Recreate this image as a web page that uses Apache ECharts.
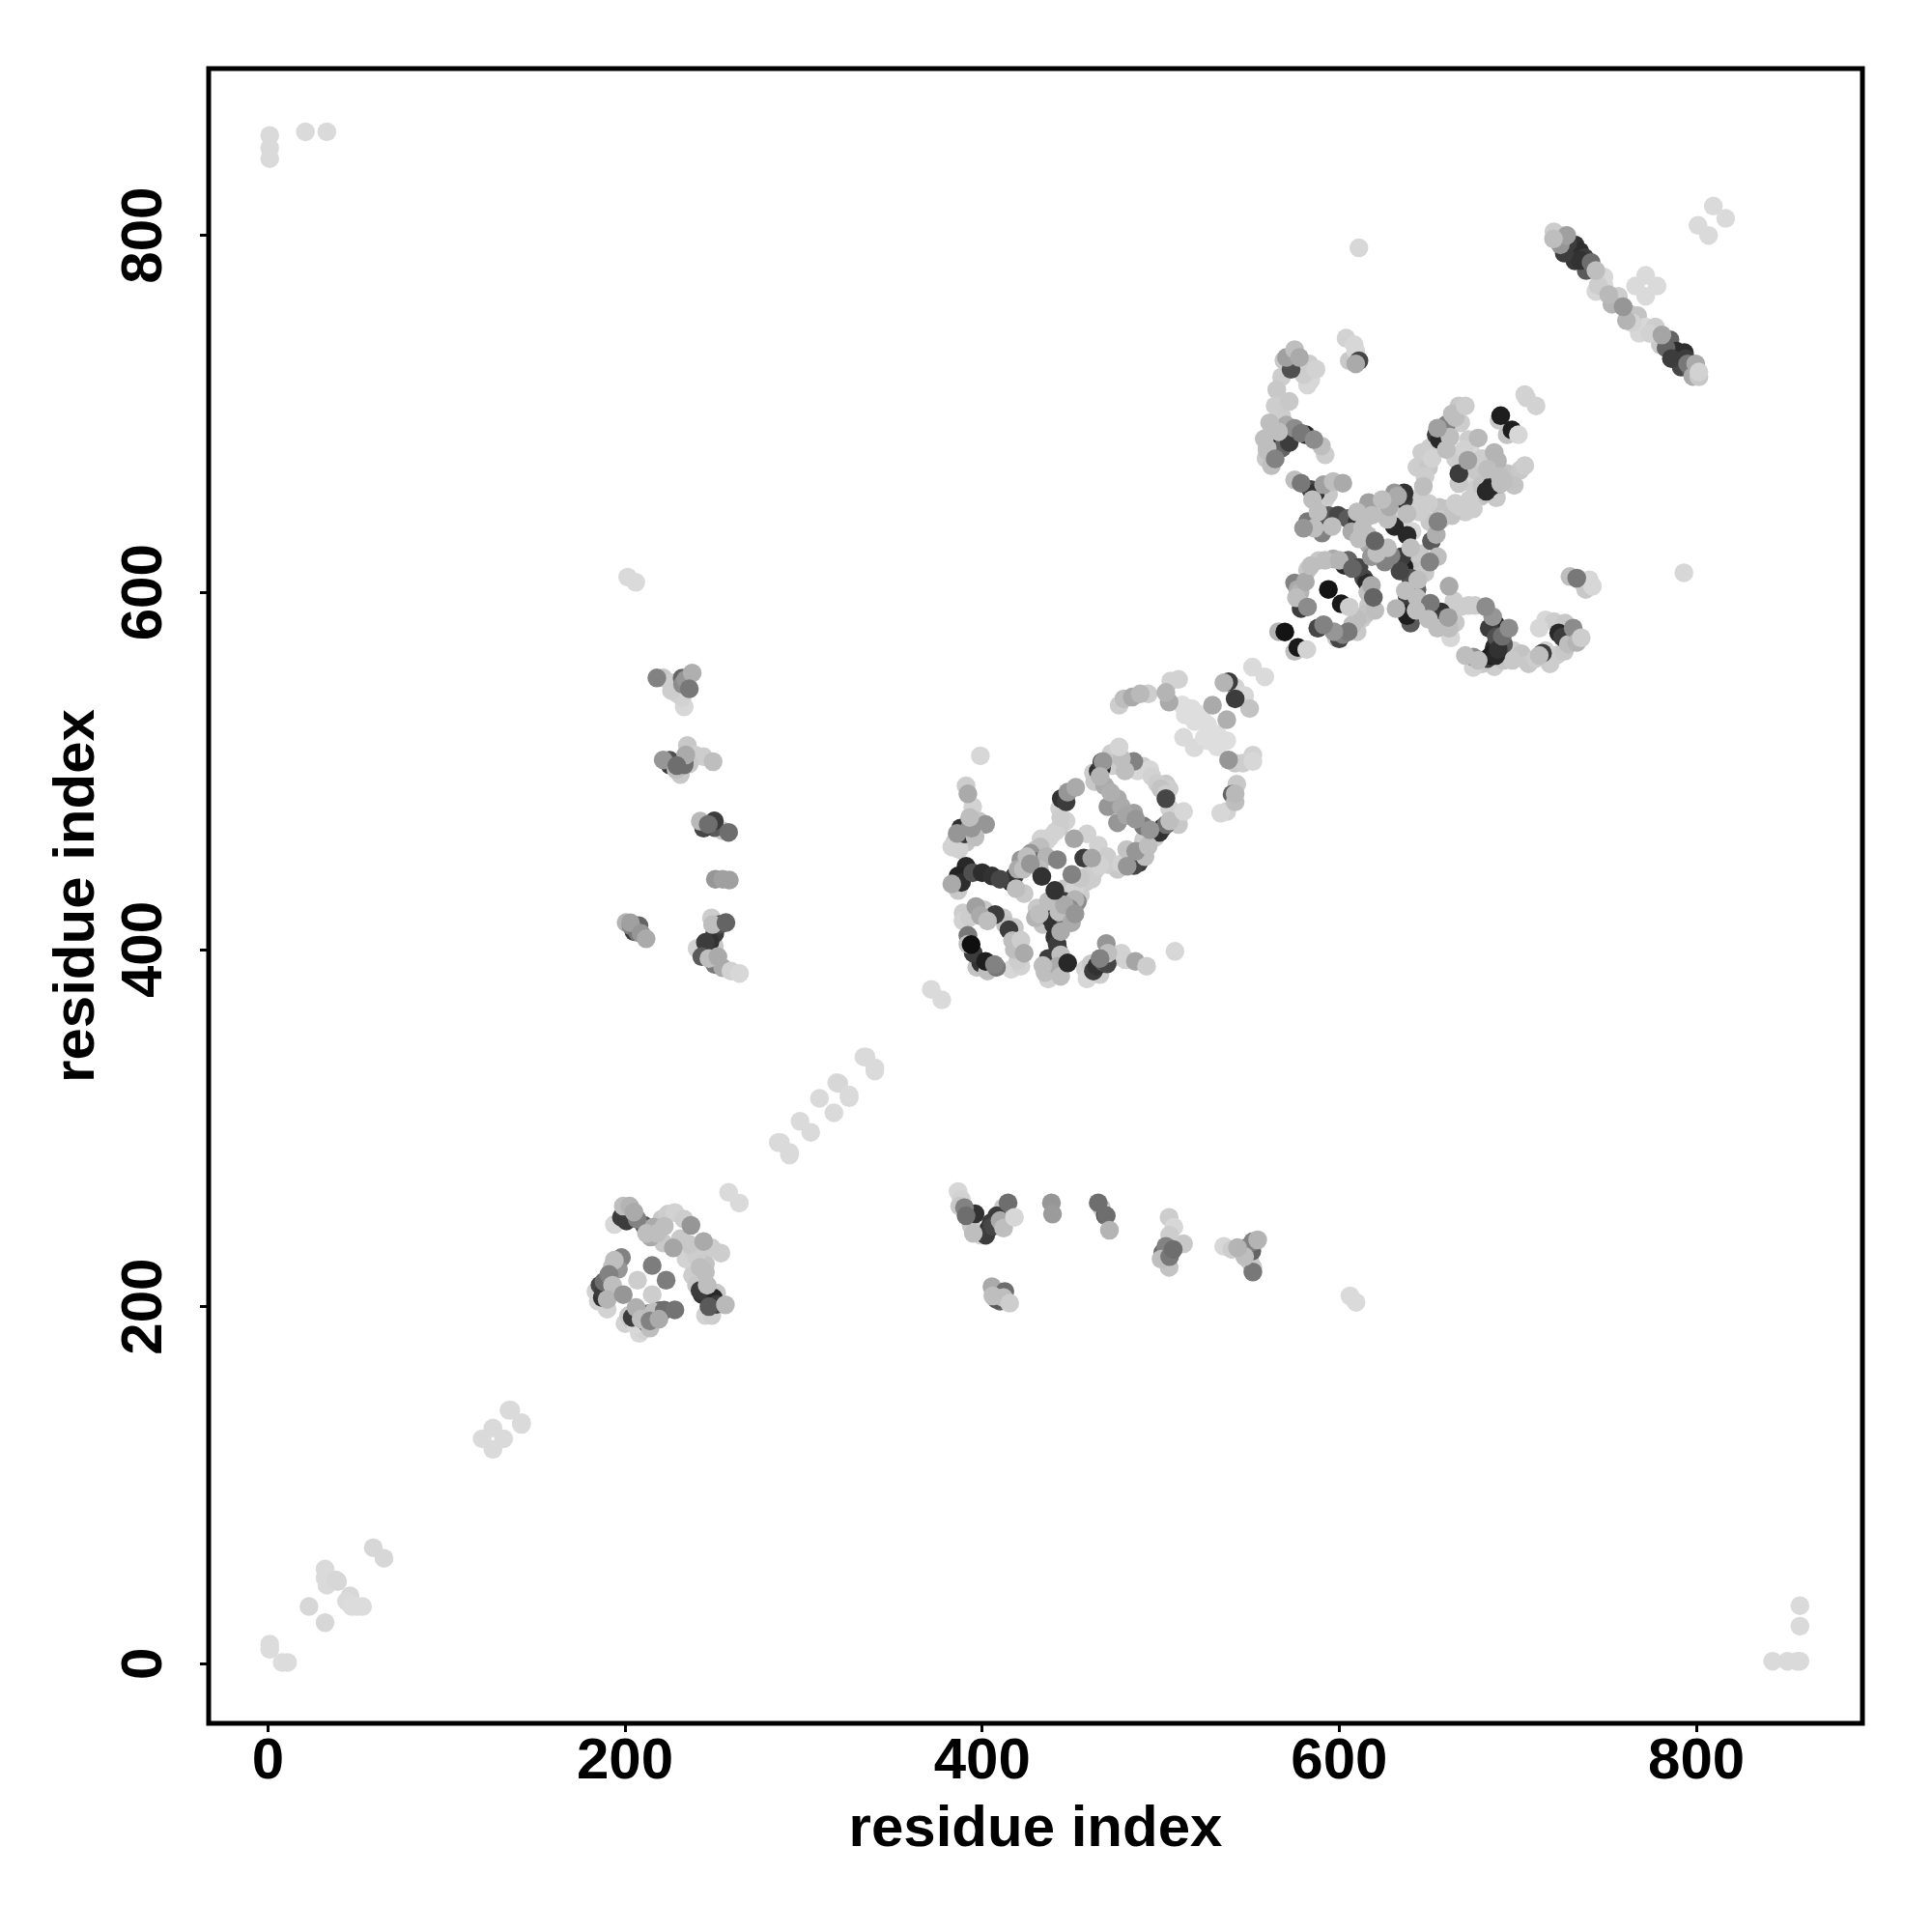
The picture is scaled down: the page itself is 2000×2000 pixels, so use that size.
<!DOCTYPE html>
<html><head><meta charset="utf-8">
<script src="https://cdn.jsdelivr.net/npm/echarts@6/dist/echarts.min.js"></script>
<style>html,body{margin:0;padding:0;background:#fff}#c{width:2000px;height:2000px}</style></head>
<body><div id="c"></div>
<script>
const tickValues=[0,200,400,600,800];
const xName="residue index", yName="residue index";
// each contact: [residue i, residue j, grey level]
const sparse=[[1,856,218],[1,849,218],[1,843,218],[21,858,218],[33,858,218],[809.5,816.4,218],[816.4,809.5,218],[800.9,805.6,218],[806.8,800,218],[611,793,215],[793,611,215],
[1,11,220],[1,8,220],[8,0.7,220],[11,0.7,220],[23,32,215],[32,23,215],[32,53,218],[32,48,218],[33,44,218],[38,47,215],[39,46,215],[46,38,215],[44,35,218],[47,32,220],[50,32,220],[53,32,220],[59,65,215],[65,59,215],
[135,142,218],[136,142,218],[142,135,218],[142,134,218],[126,132,218],[120,126,218],[126,120,218],[132,126,218],
[371.5,377.7,218],[377.4,371.8,218],[333.8,339.8,218],[335,339.8,218],[339.9,333.7,218],[339.9,332,218],[318.5,325.4,218],[319.7,325,215],[325.5,318.5,218],[325.5,317,218],[308.9,316.7,218],[317,308.6,218],[298,303.8,218],[304,297.6,218],[285.8,291.9,218],[287,291.9,218],[292.1,286.4,218],[292.1,285,218],
[258,264,218],[264,258,218],[551.4,558.2,218],[558.3,552.7,218],[201.5,608.6,218],[206,605.7,218],[606,206,218],[609.4,202.4,218],[399,508.5,215],[508,399,215],[858,32.5,218],[858,21,218],[842.7,1.4,218],[851,1.4,218],[856.5,1.4,218],[858,1.4,218]];
const clusterLow=[[194,246,215],[198,250,60],[199,256.3,190],[202.6,256.3,180],[200.8,248,60],[206.8,249,130],[210.7,245.5,90],[216,244.6,170],[214.3,239,170],[220.6,249,200],[224,251.8,205],[227.9,252.7,210],[233,249,205],[221.5,235.6,200],[227,232.9,165],[234.2,226.6,210],[237.8,217.5,205],[245,223.9,195],[245,219.3,190],[244,236.5,170],[248.6,232.9,205],[253.7,230,205],[243.2,206.7,50],[249.5,204.9,40],[245,195,210],[248.6,195,205],[251.3,207.6,200],[251.3,201.3,60],[256.2,201,185],
[198,227.5,130],[192.7,222,195],[196.3,221,150],[188.2,214,110],[183.7,208.5,210],[187.3,205,50],[190,198.6,210],[207,214.8,205],[215.2,206.7,205],[206.2,199.5,175],[200,190.5,210],[208,185,215],[204,192,200],[212.5,190.5,70],[214,188,190],[219.7,197.7,100],[217,193,190],
[205,253,170],[212,241,190],[218,241,190],[222,245,190],[231,238,200],[238,232,205],[240,228,205],[242,222,190],[240,212,200],[242,209,60],[247,200,90],[246,212,190],[236,235,200],[194,226,190],[191,218,130],[186,212,70],[188,208,60],[193,212,190],[185,203,210],[190,204,180],[204,194,60],[209,193,190],[213,196,100],[216,197,190],[222,198,110],[210,187,210],[214,192,130],[202,195,200],[206,190,215],[219,193,170]];
const clusterLowRight=[[386.5,264.5,215],[388.3,260,210],[387.4,256.3,200],[390.1,255.4,130],[391,250.9,110],[393.8,245.5,200],[399.2,240.1,210],[403.7,243.7,50],[405,247,60],[408.2,250.9,60],[414.5,258.1,110],[411.8,255.4,200],[410,248.2,170],
[438.8,258.1,150],[439.4,251.8,155],[465,258.1,110],[469,251,70],[466.8,255.4,200],[469.5,250.9,110],[504.7,250,205],[507.4,244.6,215],[501.1,230.2,110],[502.9,233.8,130],[500.2,226.6,190],[504.7,222,195],[512.8,235.2,200],[535.3,233.8,215],[539.9,232,205],[548,232.9,110],[551.6,236.5,130],[554.3,237.4,180],[551.6,219.4,120],[551.6,222,205],[405.5,211.2,170],[408.2,208.5,90],[412.7,208.5,110],[410,203.1,100],
[396,252,50],[402,240,60],[406,245,70],[412,244,190],[395,241,190],[505,228,120],[507,232,110],[505,240,205],[547,228,190],[551,231,100],[543,233,180],[550,225,200],[408,204,90],[406,206,190],[412,205,190]];
const clusterLeftColumn=[[217.8,552.1,130],[221.4,552.1,200],[225.9,549.4,205],[229.5,543.1,210],[233.1,535.9,215],[232,541,210],[232.2,548.5,140],[234,551.2,150],[237.6,554.9,175],
[234.9,514.3,200],[221.4,506.2,150],[225,503.4,60],[228.6,500.7,190],[233.1,503.4,110],[234,509,170],[239.4,508.9,205],[243.9,508,205],[249.3,505.2,190],
[242.1,471.9,185],[246.6,470.1,110],[250.2,468.3,90],[254.7,466.5,200],[250.6,439.4,150],[254.7,439.4,160],[258.4,438.9,160],
[200.6,415.1,180],[203.3,413.3,130],[207.8,413.3,100],[207,409.7,120],[248.4,417.7,205],[250.2,408.8,60],[247.5,404.2,50],[240.3,400.6,210],[244.8,399.7,205],[250.2,391.6,120],[254.7,389.8,170],
[245,404,60],[250,402,200],[253,414,80],[249,414,190],[247,395,190],[243,396,90],[252,396,170],[205,410,60],[203,415,160],[209,409,150],[226,545,205],[232,552,100],[236,546,120],[233,505,70],[229,503,110],[236,504,200],[231,498,200],[225,506,80],[244,468,70],[250,472,60]];
const clusterMiddleRing=[[476.7,536.8,205],[479.4,540.4,190],[484,541.4,170],[488.5,543.2,185],[493,543.2,205],[504.7,538.6,170],[502.9,544,180],[505.6,550.4,210],[510,551.3,210],
[512,537,222],[517.3,535,222],[513.7,531.4,222],[522.7,531.4,222],[519,527.8,222],[526.3,526,222],[531.7,520.6,222],[537,517,222],[526.3,517,222],[531.7,513.4,222],[512.8,518.8,218],[518.8,513,218],[524.5,518.8,222],
[535.4,549.5,180],[538,550,60],[541.7,540.4,60],[541.7,546.8,210],[547,542.3,215],[549.8,535,195],[538,506.2,150],[541.7,504.4,200],[546,504.4,205],[551.6,508.9,210],[551.6,505.3,215],[540,487,100],[541.7,482.7,190],[541.7,487.2,185],[542.6,492.6,200],[537,477.3,210],[533.6,476.4,215],
[466.8,501.7,45],[465,499.9,50],[467,505,65],[467.7,505.3,150],[462.3,499,205],[472.2,509.8,205],
[468.6,491.7,170],[475.8,484.5,170],[470.4,480,150],[475.8,471,150],[484.9,476.4,160],[490.3,469.2,120],[495,464,200],
[484.9,505.3,130],[490.3,502.6,205],[493.9,500.8,215],[502.9,484.5,70],[502.9,492.7,200],[504.7,490,205],[501.1,468.3,45],[499.3,465.6,50],[503,470,110],[508.3,475.5,210],[493.9,462.9,200],[490.3,461,205],
[487.6,448.5,60],[485,447,70],[491.2,452,190],[481.2,446.7,150],[475.8,444.9,200],[470.4,447.6,205],[456.9,451.2,60],[461.4,451.2,165],[451.5,462,165],[458.7,464.7,210],[465,458.4,210],
[444.3,484.5,50],[447,482.7,60],[447.9,488.1,150],[452.4,490.8,170],[443.4,479,210],[447,472,210],[443.4,468.3,205],[438,462.9,215],[436.2,461,210],[432.5,457.5,190],[427.1,453.9,150],[421.7,450.3,150],[430.7,449.4,110],
[418.1,441.2,60],[420,445,170],[416.3,437.6,50],[419,434,190],[423.5,431.3,200],
[383,436.7,170],[386.5,433.1,200],[391,446.7,40],[386.5,441.2,35],[388.4,437.6,45],[394.7,443,80],[400,443,45],[405.5,441.2,50],[410,439.4,70],
[446,434,200],[446,427,60],[457.8,437.6,205],[461.4,439.4,205],[455,430.4,205],[450.6,421.4,130],[453.3,426.8,140],[429.8,417.8,180],[430.7,423.2,200],[445.2,419.6,100],[438,417.8,50],[440.7,416.9,60],
[440.7,407,50],[442.5,399.8,60],[444,397,190],[435.2,387.1,190],[437,383.5,210],[438,390.7,45],[442.5,390.7,170],
[457.8,389,210],[458.7,383.5,215],[462.3,388,60],[464.1,390.7,50],[468,393,100],[469.5,403.4,150],[470.4,398,190],[475.8,396.1,215],[480.3,394.3,210],[485.8,393.4,165],
[391,491.7,205],[392,487.2,170],[394.7,480,210],[398.3,471.9,195],[401.9,470.1,150],[393,468,140],[388,468,50],[390.2,464.7,55],[384.7,460.2,200],[383,457.5,210],
[389.3,420.5,205],[389.3,416,210],[396.5,424.1,160],[401,422.3,200],[407.3,419.6,60],[411.8,417.8,200],[418.1,412.4,200],[418.1,408,200],[416.3,388.9,215],[421.7,390.7,210],[392,407.9,120],[399.2,392.5,50],
[425,452,190],[430,456,200],[433,462,210],[441,466,210],[444,474,205],[446,482,205],[436,452,180],[432,445,190],[423,445,190],[427,448,150],[444,425,190],[448,430,205],[452,434,210],[459,441,205],[463,444,205],[470,452,205],[466,447,210],[478,448,210],[484,453,200],[455,440,200],[452,428,180],[449,423,140],[446,418,110],[443,421,190],[481,456,195],[486,455,150],[470,505,200],[473,503,205],[478,507,190],[480,500,190],[487,500,215],[495,497,210],[498,493,205],[500,490,195],[503,487,205],[505,479,210],[510,470,200],[505,472,190],[497,463,205],[493,458,190],[472,488,175],[478,480,170],[481,475,165],[486,473,150],[494,467,150],[466,497,180],[463,494,200],[460,385,215],[466,386,205],[472,395,205],[470,392,70],[466,395,130],[461,392,200],[478,398,210],[388,468,195],[391,460,195],[386,465,150],[387,456,210],[396,463,190],[394,468,150],[393,474,190],[393,418,205],[399,419,170],[403,416,190],[413,414,195],[415,411,60],[417,405,190],[418,400,190],[420,394,205],[395,398,60],[392,403,190],[397,390,195],[403,388,190],[408,390,120],[437,427,190],[432,420,190],[434,414,195],[440,414,50],[444,410,170],[442,403,60],[437,395,60],[434,391,190],[444,385,190],[446,425,170],[450,415,170],[452,420,150]];
const clusterUpperRight=[[603.8,742.4,210],[605.6,729.8,200],[609.2,728,170],[611,729.8,70],[608.3,738.8,215],[609.2,735.2,215],
[570.4,731.6,160],[575,736,190],[577.7,731.6,170],[573,725,80],[583.1,728,205],[567.7,720.7,205],[584,719,215],[582.2,716.2,215],[565,713.5,200],[564.1,704.5,205],[567.7,699,205],[570.4,693.7,170],[575,691.9,140],[578.6,689.2,120],[581.3,688.3,40],
[563.2,687.4,40],[561.4,684.7,35],[563,686,30],[559.6,681,190],[559.6,679.3,190],[592.1,677.1,205],
[575,663,190],[578.6,661.2,120],[584,657.6,70],[586.7,655.8,50],[591.2,660.3,160],[596.6,662.1,190],[602,661.2,170],[592.1,652.2,205],
[582.2,639.6,120],[590.3,633.3,130],[588.5,639.6,40],[594,643,90],[599.3,643.2,70],[604.7,641.4,90],[612,640,60],[610.1,639.6,50],[616.4,650.4,160],[620,648.6,200],
[616,632,190],[616.4,627,170],[629,620.6,130],[625.5,617,130],[636.3,614.3,30],[640.8,616.1,195],[645.3,621.6,200],
[639.9,608,80],[643.5,601.7,100],[643.5,597,190],[646.2,593.6,80],[631.8,590.9,180],[639,590.9,30],[638,589,30],[639.9,582.8,90],[638,587,30],
[651,594,120],[653.4,590,60],[661.5,603.5,170],[664.2,595.4,205],[657,589,50],[657,585,60],[661.5,580,190],[662.4,574.6,215],
[672.4,592.7,205],[676,592.7,205],[685.9,586.4,150],[687.7,581.9,40],[691.3,575.5,110],[692,571,90],[686.8,569.2,40],[675.1,563.8,140],[670.6,564.7,190],[677.8,562,190],[683,563,60],[685,564.7,30],[687.7,564.7,40],[686.8,558.4,205],[697.6,567.4,205],[702.1,565.6,195],[712,564.7,190],[713.8,566,60],[715.6,567.4,210],[715.6,584.6,215],[720.2,583.7,205],[722.9,577.3,40],[726.5,582.8,200],[728.3,571,190],[731,580,140],
[729.2,608.9,190],[733,608,120],[735.5,606.2,205],[738,601.7,200],[740,607.1,215],[741.8,603.5,215],
[654.3,688.3,60],[658.8,690,40],[656.1,685.6,40],[660,694,130],[667,704.5,200],[663.3,700,190],[662,687,190],[650.7,681,205],[646.2,678.4,205],[643.5,670.2,205],[647.1,659.4,190],[636,652,60],[636.3,655.8,50],[630.9,655.8,150],[632.7,654,170],[642.6,652.2,205],
[677.8,686.5,185],[672.4,685.6,205],[686.8,678.4,180],[688.6,673.8,180],[665.2,674.8,205],[667,666.6,60],[674.3,677.5,215],[672.4,666.6,215],[676,657.6,205],
[690,661,70],[685,659.4,40],[682.3,656.7,40],[690.4,661,190],[694,666.6,195],[701.2,668.4,200],[679.6,654,195],[675.1,646.8,205],[670.6,645,205],[659.7,646.8,205],[656.1,647.7,195],
[689.5,696.4,200],[694,688.3,195],[696.7,691,30],[703.9,710.8,210],[704.9,709,210],[710.2,704.5,210],
[627,641,190],[630.9,637,40],[633.6,640.5,210],[638,632,40],[640.8,634.2,215],[650.7,639.6,200],[651.6,628.8,90],[618.2,643.2,190],
[575,605.3,130],[576.8,601.7,170],[582.2,612.5,200],[588.5,617.9,200],[596.6,618.8,170],[602.9,615.2,40],[613.7,608,70],[615.5,605.3,40],[616.4,592.7,200],[612.8,585.4,205],[607.4,581.9,190],[602,576.4,130],[598.4,574.6,200],
[578.6,591,60],[588,580,70],
[566,578,180],[575,567,190],
[569,730,200],[580,722,205],[587,725,210],[572,707,200],[561,695,190],[566,690,190],[558,686,190],[568,681,100],[572,684,60],[559,675,200],[562,671,190],[590,682,190],[585,652,190],[590,648,205],[594,655,200],[588,645,190],[586,636,190],[580,636,150],[596,637,190],[610,645,190],[607,634,170],[613,636,190],[611,630,190],[618,620,150],[621,622,190],[633,618,200],[627,625,190],[635,620,60],[640,625,190],[637,601,190],[634,612,70],[638,598,60],[644,607,190],[648,611,200],[655,620,190],[628,648,170],[624,652,190],[634,649,205],[638,644,190],[645,645,205],[650,650,205],[657,641,200],[663,643,195],[665,650,205],[650,670,200],[652,675,210],[648,665,205],[660,680,190],[655,692,160],[668,695,205],[665,698,190],[670,680,210],[677,668,200],[680,675,205],[683,669,190],[690,665,190],[692,662,190],[680,660,195],[673,652,205],[668,648,205],[688,653,200],[698,660,195],[672,674,160],[667,661,200],[643,590,190],[650,585,190],[655,580,190],[665,583,200],[661,586,160],[668,592,205],[684,580,60],[682,592,140],[695,580,140],[688,575,80],[689,568,50],[680,560,200],[675,558,210],[692,562,195],[697,562,200],[706,560,200],[710,563,205],[718,560,205],[722,565,205],[712,580,215],[725,575,60],[733,572,180],[726,567,200],[578,600,180],[581,606,170],[584,615,190],[592,618,190],[600,618,180],[605,618,100],[611,614,70],[616,600,190],[618,604,170],[620,590,190],[615,588,195],[610,585,190],[600,574,70],[605,578,120],[610,578,200],[597,578,150],[576,597,190]];
const clusterAntiDiagonal=[[720.2,802,205],[723.8,800,205],[723.8,794.7,150],[727.4,800,160],[730,789.3,40],[732,794.7,50],[734.7,791,45],[732,785.7,55],[737.4,787.5,60],[738.3,780.3,90],[741,784.8,110],[743.7,780.3,190],[743.7,768.6,215],[748.2,776.7,215],[748.2,772.2,215],[752.7,761.4,180],[750.9,766.8,185],[756.3,765.9,205],[760.8,752.3,180],[762.6,756,195],[767.1,755,195],[768,745.1,215],[771.6,748.7,215],[777,748.7,205],[779.8,738.8,200],[780.7,744.2,165],[785.2,741.5,100],[789.7,730.7,50],[788.8,735.2,45],[793.3,734.3,45],[791.5,726.2,70],[795.1,728,120],[799.6,728,170],
[771.6,777.6,218],[765.9,771.6,218],[771.6,765.9,218],[778,771.6,218],
[735,786,50],[728,796,60],[726,790,60],[745,772,205],[759,760,150],[764,751,210],[774,745,210],[783,737,100],[786,731,60],[794,731,60],[797,724,90],[798,721,170],[720,798,190]];
// contacts that lie on top of their neighbours in the picture
const overlay=[[393.8,402.8,15],[401.9,393.4,30],[406.9,391.6,130],[447.9,392.5,40],[433.4,440.9,50],[440.7,433.1,50],[442.1,450.3,130],[450.2,442.1,130],[529,536.8,170],[537,528.7,175],
[690.4,699,30],[700.3,688.3,215],[593.9,601.7,20],[601.1,593.6,25],[605.6,591.8,205],[569.5,577.9,20],[576.8,569.2,25],[581.8,568,210],[564.1,674.8,130],[585.8,685.6,140],[620,628.8,100],[650.7,617,130],[654.3,632.4,175],[607.4,613.4,100],[619.1,597.2,100],[582.2,591.8,140],[591.2,581.9,130],[655.2,639.6,130],
[215.2,223,125],[223,214.8,125],[199,206.7,150],[227.9,198.2,115],[236.9,245.5,150],[258,465.6,110],[256.5,415.1,100],[211.8,406,170],
[415.4,201.9,205],[418.1,250,215],[471.3,242.8,180],[259.3,388,210],[264.1,386.6,215],[735.5,574.6,205],[492.1,390.7,205],[421.7,405.2,205],[423.5,398,170],[512.8,477.3,215],[476.7,513.4,212],[670.6,704.5,205],[703.9,671.1,205],[801.4,720.8,200],[801.4,723.5,210]];
const rank=g=>g>=195?0:(g<=100?1:2);
const pile=[].concat(sparse,clusterLow,clusterLowRight,clusterLeftColumn,clusterMiddleRing,clusterUpperRight,clusterAntiDiagonal);
pile.sort((a,b)=>rank(a[2])-rank(b[2]));
const contacts=pile.concat(overlay);
const font="'Liberation Sans', Arial, sans-serif";
const axisCommon={type:'value',splitLine:{show:false},axisLine:{show:false,onZero:false},
  nameLocation:'middle',nameTextStyle:{fontFamily:font,fontWeight:'bold',fontSize:60,color:'#000'},
  axisTick:{show:true,inside:false,length:9,lineStyle:{color:'#000',width:3},customValues:tickValues},
  axisLabel:{fontFamily:font,fontWeight:'bold',fontSize:60,color:'#000',customValues:tickValues}};
const chart=echarts.init(document.getElementById('c'),null,{renderer:'canvas'});
chart.setOption({animation:false,backgroundColor:'#fff',
  grid:{left:216,right:72,top:71,bottom:216,show:true,borderColor:'#000',borderWidth:5,backgroundColor:'transparent',z:10},
  xAxis:Object.assign({},axisCommon,{min:-33.2,max:893,name:xName,nameGap:80,axisLabel:Object.assign({},axisCommon.axisLabel,{margin:10})}),
  yAxis:Object.assign({},axisCommon,{min:-33.4,max:893.4,name:yName,nameGap:106,axisLabel:Object.assign({},axisCommon.axisLabel,{rotate:90,margin:36})}),
  series:[{type:'scatter',data:contacts,symbol:'circle',symbolSize:19.5,
    encode:{x:0,y:1},
    itemStyle:{opacity:1,color:p=>{const g=p.value[2];return `rgb(${g},${g},${g})`;}}}]
});
</script></body></html>
